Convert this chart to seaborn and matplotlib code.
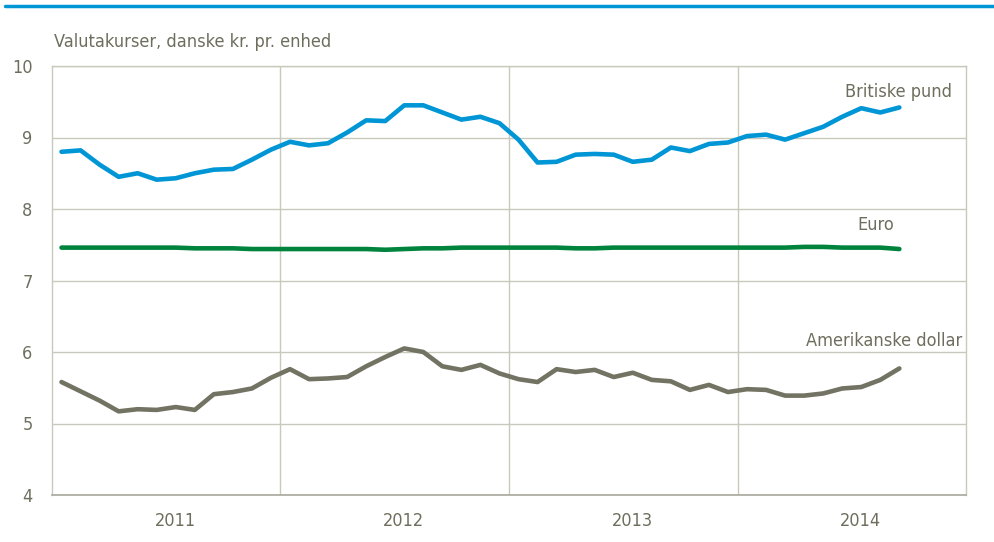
import numpy as np
import pandas as pd
import matplotlib
matplotlib.use("Agg")
import matplotlib.pyplot as plt
import seaborn as sns

# Monthly data, Jan 2011 - Sep 2014
years = ["2011", "2012", "2013", "2014"]
gbp = [8.80, 8.82, 8.62, 8.45, 8.50, 8.41, 8.43, 8.50, 8.55, 8.56, 8.69, 8.83,
       8.94, 8.89, 8.92, 9.07, 9.24, 9.23, 9.45, 9.45, 9.35, 9.25, 9.29, 9.20,
       8.97, 8.65, 8.66, 8.76, 8.77, 8.76, 8.66, 8.69, 8.86, 8.81, 8.91, 8.93,
       9.02, 9.04, 8.97, 9.06, 9.15, 9.29, 9.41, 9.35, 9.42]
eur = [7.46, 7.46, 7.46, 7.46, 7.46, 7.46, 7.46, 7.45, 7.45, 7.45, 7.44, 7.44,
       7.44, 7.44, 7.44, 7.44, 7.44, 7.43, 7.44, 7.45, 7.45, 7.46, 7.46, 7.46,
       7.46, 7.46, 7.46, 7.45, 7.45, 7.46, 7.46, 7.46, 7.46, 7.46, 7.46, 7.46,
       7.46, 7.46, 7.46, 7.47, 7.47, 7.46, 7.46, 7.46, 7.44]
usd = [5.58, 5.45, 5.32, 5.17, 5.20, 5.19, 5.23, 5.19, 5.41, 5.44, 5.49, 5.64,
       5.76, 5.62, 5.63, 5.65, 5.80, 5.93, 6.05, 6.00, 5.80, 5.75, 5.82, 5.70,
       5.62, 5.58, 5.76, 5.72, 5.75, 5.65, 5.71, 5.61, 5.59, 5.47, 5.54, 5.44,
       5.48, 5.47, 5.39, 5.39, 5.42, 5.49, 5.51, 5.61, 5.77]
series_names = ["Britiske pund", "Euro", "Amerikanske dollar"]
colors = ["#0096D6", "#00843D", "#737363"]

month = np.arange(len(gbp))
df = pd.DataFrame({
    "month": np.concatenate([month, month, month]),
    "value": np.concatenate([gbp, eur, usd]),
    "series": np.repeat(series_names, len(gbp)),
})

sns.set_theme(style="white")
plt.rcParams["font.family"] = ["DejaVu Sans"]
plt.rcParams["font.stretch"] = "condensed"
txt = "#6E6E5E"
grid = "#C8C8BC"
fs = 13

fig = plt.figure(figsize=(9.95, 5.42), dpi=100)
ax = fig.add_axes([52/995, 1-495/542, (966-52)/995, (495-66)/542])

sns.lineplot(data=df, x="month", y="value", hue="series",
             palette=dict(zip(series_names, colors)), linewidth=3.3,
             ax=ax, legend=False, solid_capstyle="round")

ax.set_xlim(-0.5, 47.5)
ax.set_ylim(4, 10)
ax.set_yticks(np.arange(4, 11, 1))
ax.set_yticklabels([str(v) for v in range(4, 11)], fontsize=fs, color=txt,
                   fontstretch="condensed")
ax.set_xticks([11.5, 23.5, 35.5])
ax.set_xticklabels([])
ax.set_xticks([5.97, 17.97, 29.97, 41.97], minor=True)
ax.set_xticklabels(years, minor=True, fontsize=fs, color=txt, fontstretch="condensed")
ax.tick_params(axis="both", which="both", length=0)
ax.tick_params(axis="x", which="minor", pad=12)
ax.tick_params(axis="y", pad=14)
ax.grid(True, which="major", color=grid, linewidth=1)
ax.set_axisbelow(True)
for s in ["left", "top", "right"]:
    ax.spines[s].set_color(grid)
    ax.spines[s].set_linewidth(1)
ax.spines["bottom"].set_color("#A8A89C")
ax.spines["bottom"].set_linewidth(1.2)
ax.set_xlabel("")
ax.set_ylabel("")

ax.text(46.76, 9.64, "Britiske pund", ha="right", va="center", fontsize=fs,
        color=txt, fontstretch="condensed")
ax.text(42.77, 7.78, "Euro", ha="center", va="center", fontsize=fs,
        color=txt, fontstretch="condensed")
ax.text(47.3, 6.15, "Amerikanske dollar", ha="right", va="center", fontsize=fs,
        color=txt, fontstretch="condensed")

fig.text(54/995, 1-42/542, "Valutakurser, danske kr. pr. enhed", ha="left", va="center",
         fontsize=fs, color=txt, fontstretch="condensed")
fig.add_artist(plt.Line2D([5/995, 1.0], [1-6/542, 1-6/542], color="#0096D6", linewidth=2.5))

fig.savefig("out.png", dpi=100)
